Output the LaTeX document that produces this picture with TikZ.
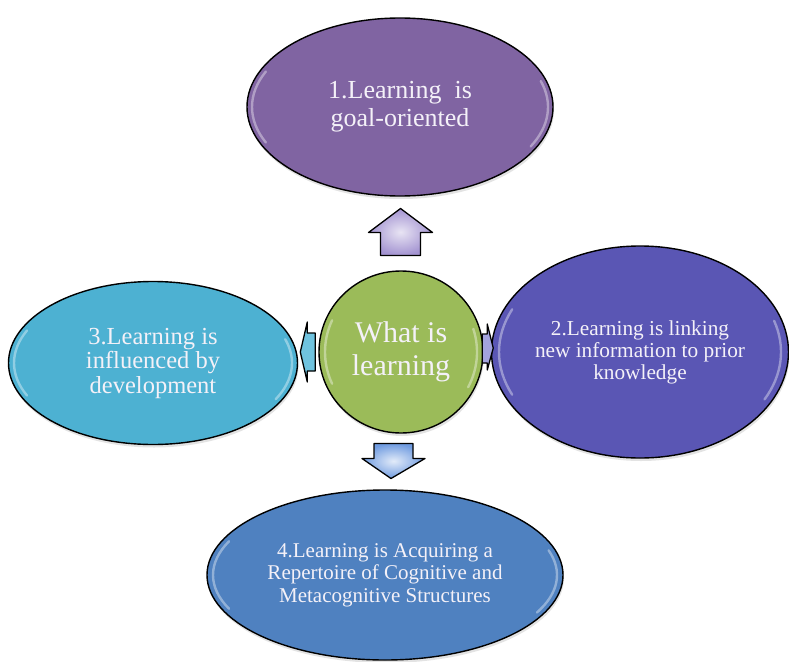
\documentclass[tikz,border=0pt]{standalone}
\usepackage{fontspec}
\setmainfont{Liberation Serif}
\usetikzlibrary{shapes.geometric,calc,shadows}
\definecolor{cpurple}{HTML}{8064A2}
\definecolor{caqua}{HTML}{4DB1D2}
\definecolor{cviolet}{HTML}{5A56B4}
\definecolor{cblue}{HTML}{4F81C0}
\definecolor{cgreen}{HTML}{9BBB59}
\definecolor{apurple}{HTML}{A393D1}
\definecolor{aaqua}{HTML}{6FC3DF}
\definecolor{aviolet}{HTML}{A3A3DE}
\definecolor{ablue}{HTML}{6F9BE0}
\definecolor{textlight}{HTML}{F4F1F8}
\newcommand{\glossarcs}[3]{%
  \draw[glossline] ($(#1.center)+(155:#2 and #3)$) arc[start angle=155,end angle=205,x radius=#2,y radius=#3];
  \draw[glossline] ($(#1.center)+(-28:#2 and #3)$) arc[start angle=-28,end angle=18,x radius=#2,y radius=#3];
}
\begin{document}
\begin{tikzpicture}[x=1pt,y=-1pt,
  bubble/.style={ellipse,draw=black,line width=1.4pt,inner sep=0pt,align=center,text=textlight,
    drop shadow={opacity=0.22,shadow xshift=1pt,shadow yshift=-3pt}},
  glossline/.style={white,opacity=0.38,line width=2.4pt,line cap=round},
  blockarrow/.style={draw=black,line width=1.3pt,line join=round}]
\useasboundingbox (0,0) rectangle (789,661);
\fill[white] (0,0) rectangle (789,661);

\node[bubble,fill=cpurple,minimum width=306pt,minimum height=178pt,font=\fontsize{26}{28}\selectfont] (goal) at (400,107) {1.Learning~~is\\goal-oriented};
\node[bubble,fill=caqua,minimum width=289pt,minimum height=163pt,font=\fontsize{24.5}{24.5}\selectfont] (dev) at (153,363) {3.Learning is\\influenced by\\development};
\node[bubble,fill=cviolet,minimum width=296pt,minimum height=212pt,font=\fontsize{21.3}{22}\selectfont] (prior) at (640,352) {2.Learning is linking\\new information to prior\\knowledge};
\node[bubble,fill=cblue,minimum width=356pt,minimum height=170pt,font=\fontsize{21}{22.5}\selectfont] (rep) at (385,575) {4.Learning is Acquiring a\\Repertoire of Cognitive and\\Metacognitive Structures};
\node[bubble,fill=cgreen,minimum width=164pt,minimum height=162pt,font=\fontsize{30}{33}\selectfont] (what) at (401,352) {What is\\learning};

\glossarcs{goal}{148pt}{84pt}
\glossarcs{dev}{139pt}{77pt}
\glossarcs{prior}{141pt}{101pt}
\glossarcs{rep}{172pt}{80pt}
\glossarcs{what}{76pt}{75pt}

% up arrow
\coordinate (up) at ($(what.north)!0.5!(goal.south)$);
\begin{scope}[shift={(up)}]
\draw[blockarrow,inner color=white!75!apurple,outer color=apurple] (0,-25) -- (32,-1) -- (20,-1) -- (20,22) -- (-20,22) -- (-20,-1) -- (-32,-1) -- cycle;
\end{scope}
% down arrow
\coordinate (dn) at ($(what.south)!0.5!(rep.north)$);
\begin{scope}[shift={(dn)}]
\draw[blockarrow,inner color=white!80!ablue,outer color=ablue] (-2,17) -- (32,-3) -- (20,-3) -- (20,-18) -- (-19,-18) -- (-19,-3) -- (-31,-3) -- cycle;
\end{scope}
% left arrow
\coordinate (lt) at ($(what.west)+(-11,0)$);
\begin{scope}[shift={(lt)}]
\draw[blockarrow,fill=aaqua] (-7,0) -- (0,-30) -- (0,-19) -- (8,-19) -- (8,19) -- (0,19) -- (0,30) -- cycle;
\end{scope}
% right arrow
\coordinate (rt) at ($(what.east)!0.5!(prior.west)+(0,-4)$);
\begin{scope}[shift={(rt)}]
\draw[blockarrow,fill=aviolet] (6,0) -- (0,-24) -- (0,-14) -- (-5,-14) -- (-5,15) -- (0,15) -- (0,22) -- cycle;
\end{scope}
\end{tikzpicture}
\end{document}
